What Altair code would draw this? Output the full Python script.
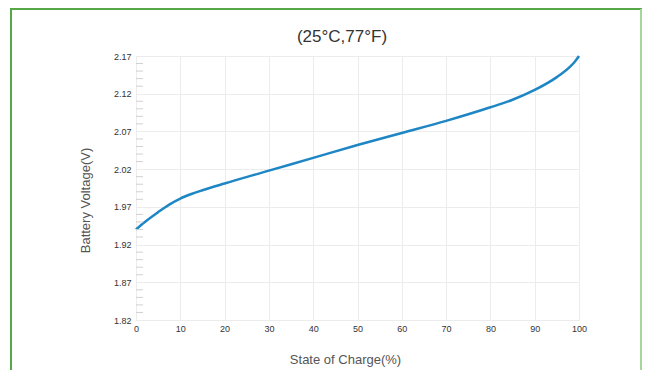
import altair as alt
import pandas as pd

soc = [0, 2, 5, 7.5, 10, 12.5, 15, 20, 30, 40, 50, 60, 70, 80, 85, 90, 95, 98, 99, 100]
voltage = [1.940, 1.950, 1.963, 1.973, 1.981, 1.987, 1.992, 2.001, 2.018, 2.035, 2.052,
           2.068, 2.084, 2.102, 2.112, 2.125, 2.142, 2.156, 2.162, 2.170]
y_major = [1.82, 1.87, 1.92, 1.97, 2.02, 2.07, 2.12, 2.17]
x_ticks = [0, 10, 20, 30, 40, 50, 60, 70, 80, 90, 100]
y_minor = [round(1.82 + 0.01 * i, 2) for i in range(36)]
y_minor = [v for v in y_minor if v not in y_major]
title_text = ["(25°C,77°F)"]

df = pd.DataFrame({"soc": soc, "v": voltage})
minor_df = pd.DataFrame({"v": y_minor})

FONT = "Liberation Sans Narrow, Liberation Sans, Arial"

x_enc = alt.X("soc:Q", scale=alt.Scale(domain=[0, 100], nice=False),
              axis=alt.Axis(values=x_ticks, title="State of Charge(%)", grid=True,
                            gridColor="#ececec", domain=False, ticks=False,
                            labelFont=FONT, labelFontSize=9, labelColor="#333",
                            labelPadding=4, labelFlush=False, labelOverlap=False,
                            titleFont="Liberation Sans", titleFontSize=13,
                            titleColor="#555", titleFontWeight="normal",
                            titleX=209, titleY=43, titleBaseline="alphabetic"))
y_axis = alt.Axis(values=y_major, format=".2f", title="Battery Voltage(V)",
                  grid=True, gridColor="#ececec", domain=False, ticks=False,
                  labelFont=FONT, labelFontSize=9, labelColor="#333",
                  labelPadding=5, labelFlush=False, labelOverlap=False,
                  titleFont="Liberation Sans", titleFontSize=13,
                  titleColor="#555", titleFontWeight="normal",
                  titleX=-51, titleY=144, titleAngle=-90,
                  titleAlign="center", titleBaseline="middle")
y_scale = alt.Scale(domain=[1.82, 2.17], nice=False, zero=False)

line = alt.Chart(df).mark_line(color="#1e86c5", strokeWidth=2.5, interpolate="monotone").encode(
    x=x_enc, y=alt.Y("v:Q", scale=y_scale, axis=y_axis))

minor = alt.Chart(minor_df).mark_rule(color="#d0d0d0", strokeWidth=1).encode(
    x=alt.value(0), x2=alt.value(7), y=alt.Y("v:Q", scale=y_scale, axis=y_axis))

one = alt.Data(values=[{"a": 1}])
title = alt.Chart(pd.DataFrame({"t": title_text})).mark_text(
    font="Liberation Sans", fontSize=17, color="#333", baseline="alphabetic").encode(
    x=alt.value(206), y=alt.value(-14), text="t:N")

border_left = alt.Chart(one).mark_rule(color="#55a845", strokeWidth=2).encode(
    x=alt.value(-125), y=alt.value(-47), y2=alt.value(330))
border_top = alt.Chart(one).mark_rule(color="#55a845", strokeWidth=2).encode(
    x=alt.value(-126), x2=alt.value(506), y=alt.value(-47))
border_right = alt.Chart(one).mark_rule(color="#a6d69b", strokeWidth=2).encode(
    x=alt.value(505), y=alt.value(-47), y2=alt.value(330))

chart = alt.layer(line, minor, title, border_left, border_top, border_right).properties(
    width=443, height=264,
    autosize=alt.AutoSizeParams(type="none"),
    padding={"left": 128, "top": 48, "right": 73, "bottom": 50},
).configure_view(stroke="#dcdcdc", strokeWidth=1.5).configure(background="white")

chart.save("out.html", embed_options={"renderer": "svg", "actions": False})
